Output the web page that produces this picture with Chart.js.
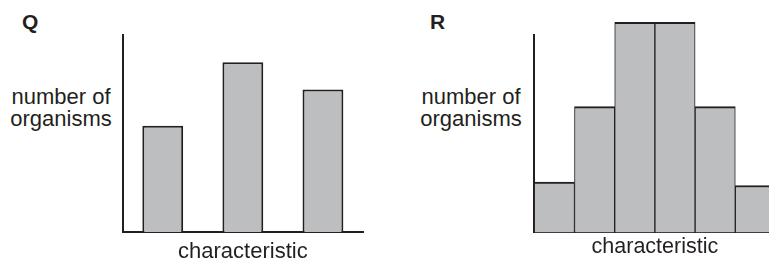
<!DOCTYPE html>
<html>
<head>
<meta charset="utf-8">
<script src="https://cdn.jsdelivr.net/npm/chart.js@4"></script>
<style>
  body { margin: 0; width: 769px; height: 258px; overflow: hidden; position: relative; background: #fff; }
  canvas { position: absolute; top: 0; }
  .lbl { position: absolute; font-family: "Liberation Sans", Arial, sans-serif; color: #231f20; }
  .letter { font-weight: bold; font-size: 21px; line-height: 21px; top: 11px; }
  .ylab { font-size: 22px; line-height: 22px; top: 86px; width: 122px; text-align: center; }
</style>
</head>
<body>
<div class="lbl letter" style="left:22px">Q</div>
<div class="lbl letter" style="left:430px">R</div>
<div class="lbl ylab" style="left:0">number of<br>organisms</div>
<div class="lbl ylab" style="left:410px">number of<br>organisms</div>
<canvas id="chartQ" width="400" height="265" style="left:0"></canvas>
<canvas id="chartR" width="400" height="260" style="left:400px"></canvas>
<script>
// values, axis height = 10 units
const qCategories = ['1', '2', '3'];
const qValues = [5.4, 8.62, 7.23];
const rCategories = ['1', '2', '3', '4', '5', '6'];
const rValues = [2.55, 6.37, 10.64, 10.64, 6.37, 2.37];
const xTitle = 'characteristic';

const ink = '#231f20';
const fill = '#bcbec0';

function axes(titleSize, titlePad) {
  return {
    x: {
      type: 'category',
      offset: true,
      grid: { display: false, drawTicks: false },
      ticks: { display: false },
      border: { display: true, color: ink, width: 2 },
      title: {
        display: true,
        text: xTitle,
        color: ink,
        font: { family: '"Liberation Sans", Arial, sans-serif', size: titleSize, lineHeight: 1.2 },
        padding: { top: titlePad, bottom: 0 }
      }
    },
    y: {
      min: 0,
      max: 10,
      grid: { display: false, drawTicks: false },
      ticks: { display: false },
      border: { display: true, color: ink, width: 2 }
    }
  };
}

const common = {
  responsive: false,
  animation: false,
  plugins: { legend: { display: false }, tooltip: { enabled: false } }
};

new Chart(document.getElementById('chartQ'), {
  type: 'bar',
  data: {
    labels: qCategories,
    datasets: [{
      data: qValues,
      backgroundColor: fill,
      borderColor: ink,
      borderWidth: 2,
      categoryPercentage: 1,
      barPercentage: 0.51
    }]
  },
  options: Object.assign({}, common, {
    layout: { padding: { left: 122.7, right: 37, top: 35, bottom: 0 } },
    scales: axes(22, 6.4)
  })
});

new Chart(document.getElementById('chartR'), {
  type: 'bar',
  data: {
    labels: rCategories,
    datasets: [{
      data: rValues,
      backgroundColor: fill,
      borderColor: ink,
      borderWidth: { top: 2, left: 1, right: 1, bottom: 0 },
      categoryPercentage: 1,
      barPercentage: 1,
      clip: false
    }]
  },
  options: Object.assign({}, common, {
    layout: { padding: { left: 134.3, right: 24.5, top: 35, bottom: 0 } },
    scales: axes(21.5, 1.9)
  })
});
</script>
</body>
</html>
